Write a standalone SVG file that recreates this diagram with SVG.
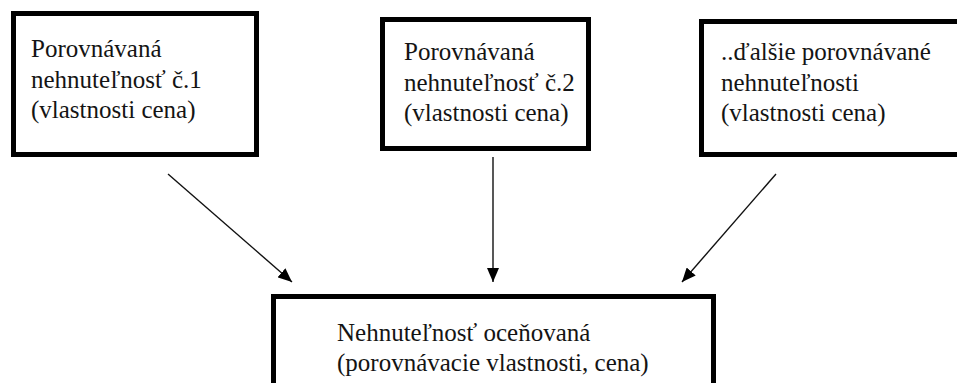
<svg xmlns="http://www.w3.org/2000/svg" width="957" height="383" viewBox="0 0 957 383">
  <defs>
    <marker id="arrow" viewBox="0 0 14 12" refX="14" refY="6" markerWidth="14" markerHeight="12" markerUnits="userSpaceOnUse" orient="auto">
      <path d="M0,0 L14,6 L0,12 Z" fill="#000"/>
    </marker>
  </defs>
  <style>
    .box { fill: #fff; stroke: #000; stroke-width: 5; }
    .lbl { font-size: 25px; fill: #141414; }
    .conn { stroke: #111; stroke-width: 1.4; fill: none; marker-end: url(#arrow); }
  </style>
  <rect width="957" height="383" fill="#fff"/>

  <g id="node-compared-1">
    <rect class="box" x="13.5" y="13.5" width="243" height="141"/>
    <text class="lbl" font-family="'Liberation Serif', 'Times New Roman', 'DejaVu Serif', serif">
      <tspan x="31" y="57">Porovnávaná</tspan>
      <tspan x="31" y="88">nehnuteľnosť č.1</tspan>
      <tspan x="31" y="118">(vlastnosti cena)</tspan>
    </text>
  </g>

  <g id="node-compared-2">
    <rect class="box" x="382.5" y="19.5" width="206" height="129"/>
    <text class="lbl" font-family="'Liberation Serif', 'Times New Roman', 'DejaVu Serif', serif">
      <tspan x="404" y="60">Porovnávaná</tspan>
      <tspan x="404" y="91">nehnuteľnosť č.2</tspan>
      <tspan x="404" y="121">(vlastnosti cena)</tspan>
    </text>
  </g>

  <g id="node-compared-more">
    <rect class="box" x="701.5" y="21.5" width="270" height="133"/>
    <text class="lbl" font-family="'Liberation Serif', 'Times New Roman', 'DejaVu Serif', serif">
      <tspan x="721" y="60">..ďalšie porovnávané</tspan>
      <tspan x="721" y="91">nehnuteľnosti</tspan>
      <tspan x="721" y="121">(vlastnosti cena)</tspan>
    </text>
  </g>

  <g id="node-valued">
    <rect class="box" x="273.5" y="296.5" width="440" height="100"/>
    <text class="lbl" font-family="'Liberation Serif', 'Times New Roman', 'DejaVu Serif', serif">
      <tspan x="337" y="341">Nehnuteľnosť oceňovaná</tspan>
      <tspan x="337" y="371">(porovnávacie vlastnosti, cena)</tspan>
    </text>
  </g>

  <g id="connectors">
    <line class="conn" x1="168" y1="174" x2="292" y2="282"/>
    <line class="conn" x1="493" y1="157" x2="493" y2="282"/>
    <line class="conn" x1="776" y1="174" x2="682" y2="282"/>
  </g>
</svg>
